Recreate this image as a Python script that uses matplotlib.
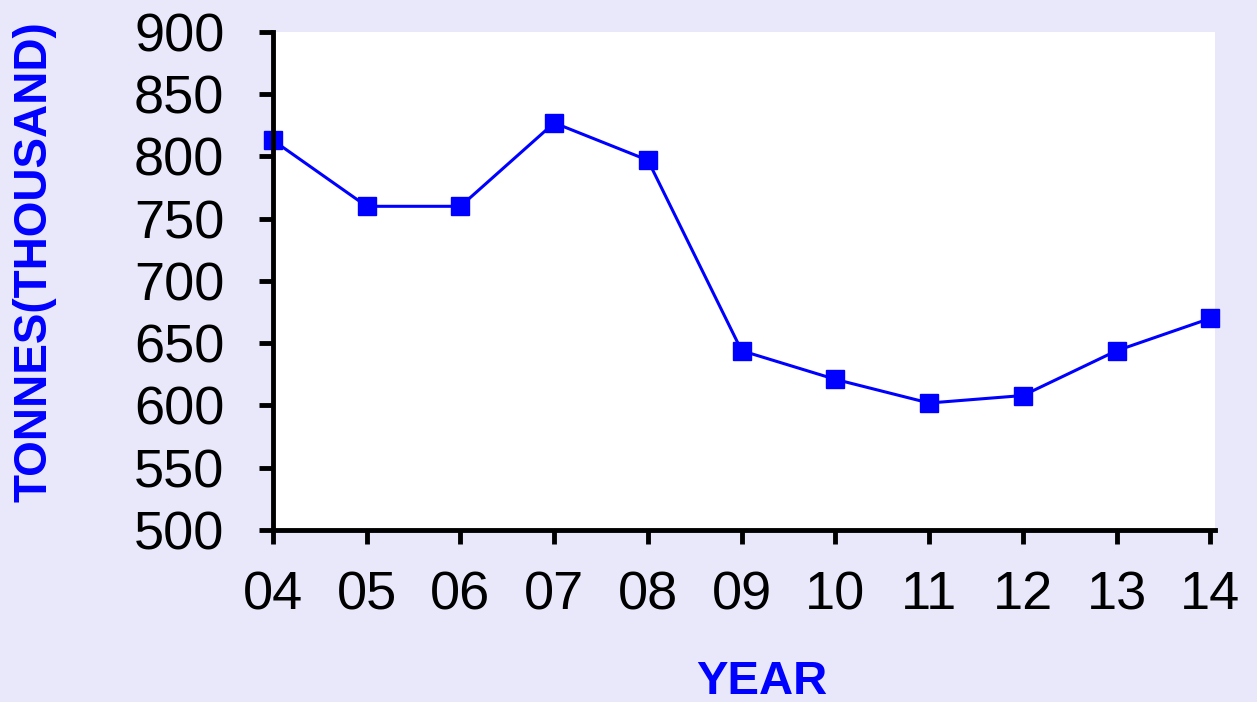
import matplotlib.pyplot as plt

# data
years = ['04', '05', '06', '07', '08', '09', '10', '11', '12', '13', '14']
tonnes = [813, 760, 760, 827, 797, 644, 621, 602, 608, 644, 670]

bg = '#e8e8fa'
fig = plt.figure(figsize=(12.57, 7.02), dpi=100, facecolor=bg)
ax = fig.add_axes([273 / 1257, 1 - 530 / 702, (1215 - 273) / 1257, (530 - 32) / 702])
ax.set_facecolor('white')

x = list(range(len(years)))
ax.plot(x, tonnes, color='#0000ff', linewidth=2.2, marker='s', markersize=13, clip_on=False)

ax.set_xlim(0, 10.05)
ax.set_ylim(500, 900)
ax.set_yticks(range(500, 901, 50))
ax.set_xticks(x)
ax.set_xticklabels(years)

for s in ['top', 'right']:
    ax.spines[s].set_visible(False)
for s in ['left', 'bottom']:
    ax.spines[s].set_linewidth(3.5)

ax.tick_params(direction='out', length=10, width=3.5, labelsize=39)
ax.tick_params(axis='y', pad=25)
ax.tick_params(axis='x', pad=19)
for lab in ax.get_xticklabels() + ax.get_yticklabels():
    lab.set_family('Liberation Sans')

ax.set_ylabel('TONNES(THOUSAND)', fontsize=33, fontweight='bold', color='#0000ff',
              family='Liberation Sans', va='center')
ax.set_xlabel('YEAR', fontsize=34, fontweight='bold', color='#0000ff',
              family='Liberation Sans', va='center')
ax.yaxis.set_label_coords((35 - 273) / 942, (530 - 262) / 498)
ax.xaxis.set_label_coords((762 - 273) / 942, -(682 - 530) / 498)

fig.savefig('out.png', dpi=100, facecolor=bg)
